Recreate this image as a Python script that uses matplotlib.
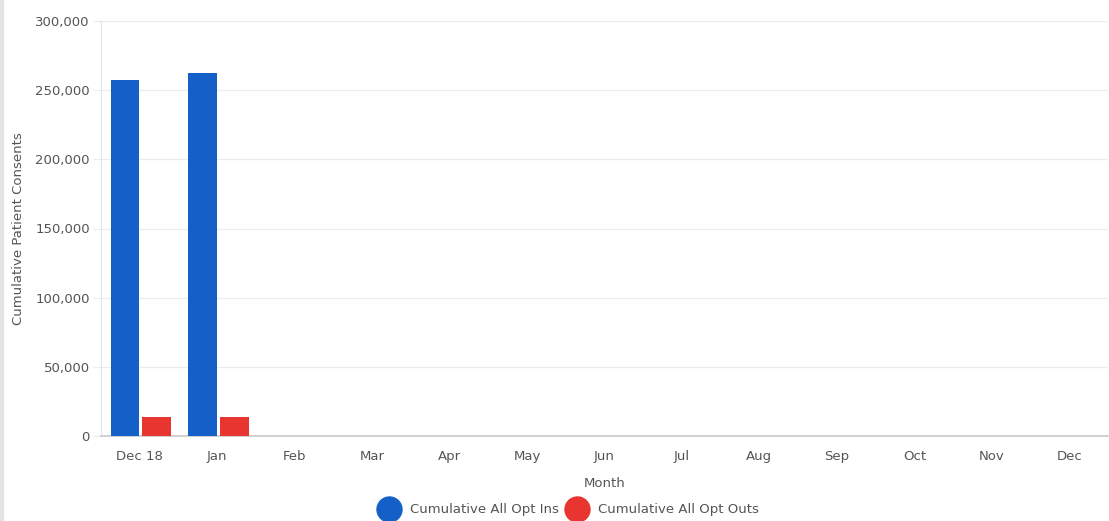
import matplotlib
matplotlib.use("Agg")
import matplotlib.pyplot as plt
from matplotlib.lines import Line2D
from matplotlib.ticker import FuncFormatter, MultipleLocator
import numpy as np

months = ["Dec 18", "Jan", "Feb", "Mar", "Apr", "May", "Jun", "Jul", "Aug", "Sep", "Oct", "Nov", "Dec"]
opt_ins = [257300, 262400, 0, 0, 0, 0, 0, 0, 0, 0, 0, 0, 0]
opt_outs = [13600, 13600, 0, 0, 0, 0, 0, 0, 0, 0, 0, 0, 0]
series_names = ["Cumulative All Opt Ins", "Cumulative All Opt Outs"]

blue = "#1560c8"
red = "#e8352f"
txt = "#555555"
fs = 9.5

fig = plt.figure(figsize=(11.09, 5.21), dpi=100)
fig.patch.set_facecolor("white")
ax = fig.add_axes([101/1109, 1-436/521, 1007/1109, 415/521])

x = np.arange(len(months))
w = 0.37
gap = 0.02
ax.bar(x - w/2 - gap + 0.015, opt_ins, width=w, color=blue, zorder=3)
ax.bar(x + w/2 + gap + 0.015, opt_outs, width=w, color=red, zorder=3)

ax.set_xlim(-0.5, len(months) - 0.5)
ax.set_ylim(0, 300000)
ax.yaxis.set_major_locator(MultipleLocator(50000))
ax.yaxis.set_major_formatter(FuncFormatter(lambda v, p: f"{int(v):,}"))
ax.set_xticks(x)
ax.set_xticklabels(months)

ax.grid(axis="y", color="#ececec", linewidth=0.9, zorder=0)
for s in ["top", "right"]:
    ax.spines[s].set_visible(False)
ax.spines["left"].set_color("#dde6f2")
ax.spines["left"].set_linewidth(0.8)
ax.spines["bottom"].set_color("#c8c8c8")
ax.spines["bottom"].set_linewidth(1.2)

ax.tick_params(axis="y", length=6, color="#ececec", labelsize=fs, labelcolor=txt, pad=2)
ax.tick_params(axis="x", length=0, labelsize=fs, labelcolor=txt, pad=10)

ax.set_xlabel("Month", fontsize=fs, color=txt, labelpad=10)
ax.set_ylabel("Cumulative Patient Consents", fontsize=fs, color=txt)
ax.yaxis.set_label_coords(-76/1007, 0.5)

handles = [
    Line2D([], [], marker="o", linestyle="none", markersize=18, markerfacecolor=blue, markeredgecolor=blue),
    Line2D([], [], marker="o", linestyle="none", markersize=18, markerfacecolor=red, markeredgecolor=red),
]
leg = fig.legend(handles, series_names, loc="center", bbox_to_anchor=(568/1109, 1-510/521),
                 ncol=2, frameon=False, fontsize=fs, handletextpad=0.65, columnspacing=0.4,
                 handlelength=1.9, borderpad=0, borderaxespad=0)
for t in leg.get_texts():
    t.set_color(txt)

# light left border strip
fig.add_artist(plt.Rectangle((0, 0), 3/1109, 1, transform=fig.transFigure, color="#e4e4e4", zorder=0))

fig.savefig("out.png", dpi=100, facecolor="white")
